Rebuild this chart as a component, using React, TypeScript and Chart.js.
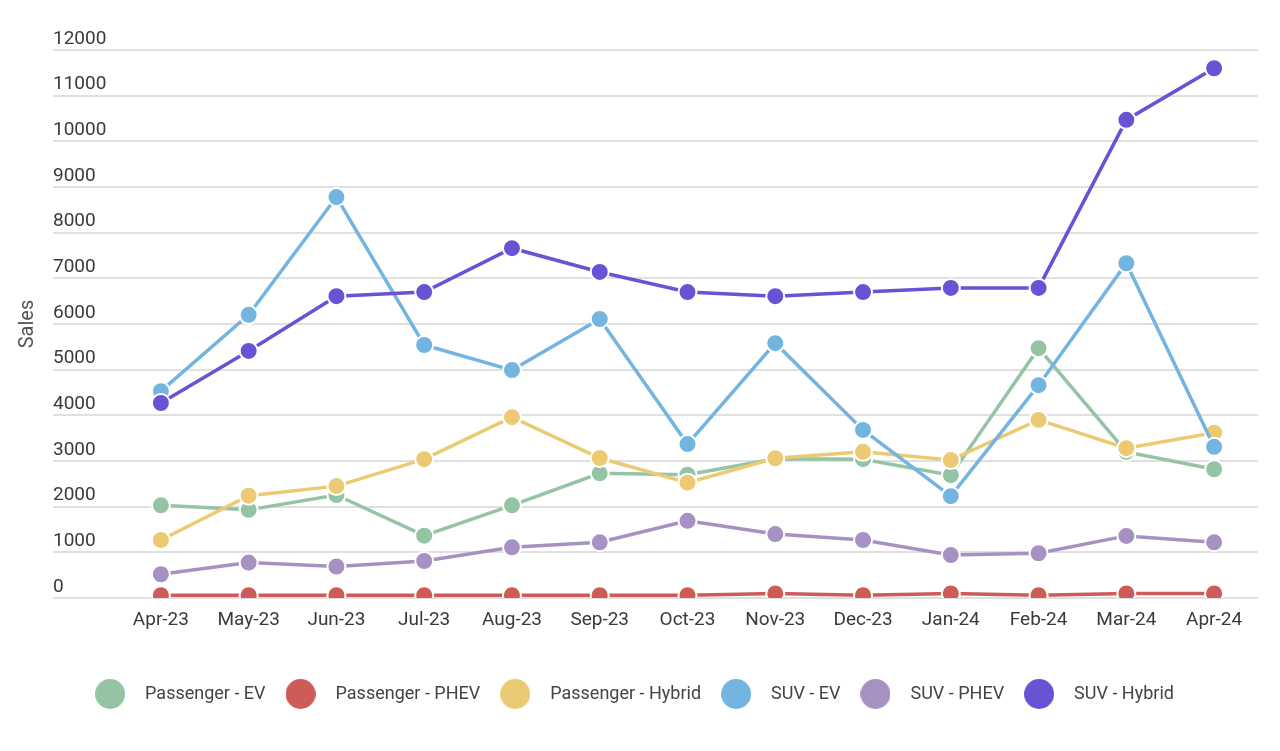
import React, { useEffect, useRef } from "react";
import { Chart, registerables } from "chart.js";

Chart.register(...registerables);

const categories = ["Apr-23", "May-23", "Jun-23", "Jul-23", "Aug-23", "Sep-23", "Oct-23", "Nov-23", "Dec-23", "Jan-24", "Feb-24", "Mar-24", "Apr-24"];

const passengerEV = [2030, 1930, 2255, 1365, 2030, 2730, 2700, 3050, 3040, 2690, 5470, 3200, 2820];
const passengerPHEV = [60, 60, 60, 60, 60, 60, 60, 100, 60, 100, 60, 100, 100];
const passengerHybrid = [1270, 2240, 2450, 3040, 3960, 3065, 2525, 3060, 3200, 3020, 3900, 3280, 3620];
const suvEV = [4530, 6200, 8780, 5540, 4990, 6110, 3370, 5580, 3680, 2230, 4660, 7330, 3310];
const suvPHEV = [520, 775, 690, 810, 1110, 1220, 1690, 1400, 1270, 940, 980, 1360, 1220];
const suvHybrid = [4270, 5410, 6610, 6700, 7660, 7140, 6700, 6610, 6700, 6790, 6790, 10470, 11600];

const seriesNames = ["Passenger - EV", "Passenger - PHEV", "Passenger - Hybrid", "SUV - EV", "SUV - PHEV", "SUV - Hybrid"];
const seriesValues = [passengerEV, passengerPHEV, passengerHybrid, suvEV, suvPHEV, suvHybrid];
const seriesColors = ["#95c4a5", "#cd5b57", "#ebca73", "#74b4e1", "#a791c3", "#6a52d4"];

const yTicksMin = 0;
const yTicksMax = 12000;
const yTicksStep = 1000;

function makeDot(color: string) {
  const c = document.createElement("canvas");
  c.width = 30;
  c.height = 30;
  const ctx = c.getContext("2d")!;
  ctx.fillStyle = color;
  ctx.beginPath();
  ctx.arc(15, 15, 15, 0, Math.PI * 2);
  ctx.fill();
  return c;
}

export default function App() {
  const ref = useRef<HTMLCanvasElement | null>(null);

  useEffect(() => {
    if (!ref.current) return;
    const dots = seriesColors.map(makeDot);
    const n = seriesNames.length;
    const chart = new Chart(ref.current, {
      type: "line",
      data: {
        labels: categories,
        datasets: seriesNames.map((name, i) => ({
          label: name,
          data: seriesValues[i],
          borderColor: seriesColors[i],
          backgroundColor: seriesColors[i],
          pointBackgroundColor: seriesColors[i],
          pointBorderColor: "#ffffff",
          pointBorderWidth: 2,
          pointRadius: 9,
          pointHoverRadius: 9,
          borderWidth: 3.5,
          tension: 0,
          order: n - i,
          yAxisID: "y",
        })),
      },
      options: {
        animation: false,
        responsive: false,
        maintainAspectRatio: false,
        font: { family: "Roboto" },
        layout: { padding: { left: 0, right: 22, top: 50, bottom: 38 } },
        plugins: {
          tooltip: { enabled: false },
          legend: {
            position: "bottom",
            labels: {
              usePointStyle: true,
              pointStyleWidth: 52,
              padding: 9,
              color: "#444444",
              font: { family: "Roboto", size: 18 },
              sort: (a: any, b: any) => a.datasetIndex - b.datasetIndex,
              generateLabels: (ch: any) => {
                const items = (Chart.defaults.plugins.legend.labels as any).generateLabels(ch);
                return items.map((it: any) => ({ ...it, pointStyle: dots[it.datasetIndex] }));
              },
            },
          },
        },
        scales: {
          x: {
            type: "category",
            offset: true,
            grid: { display: false, drawTicks: false, offset: true },
            border: { display: false },
            ticks: {
              color: "#3a3a3a",
              font: { family: "Roboto", size: 19 },
              padding: 11,
              maxRotation: 0,
              autoSkip: false,
            },
            afterFit: (s: any) => {
              s.height = 78;
            },
          },
          y: {
            type: "linear",
            position: "left",
            weight: 0,
            min: yTicksMin,
            max: yTicksMax,
            border: { display: false },
            grid: {
              color: "#e0e0e0",
              lineWidth: 2,
              drawTicks: true,
              tickLength: 64,
              tickColor: "#e0e0e0",
            },
            ticks: {
              stepSize: yTicksStep,
              color: "#3a3a3a",
              font: { family: "Roboto", size: 19 },
              crossAlign: "far",
              padding: 0,
              labelOffset: -11,
              callback: (v: any) => String(v),
            },
            afterFit: (s: any) => {
              s.width = 64;
            },
          },
          yTitle: {
            type: "linear",
            position: "left",
            weight: 1,
            display: true,
            grid: { display: false, drawTicks: false },
            border: { display: false },
            ticks: { display: false },
            title: {
              display: true,
              text: "Sales",
              color: "#555555",
              font: { family: "Roboto", size: 20 },
              padding: { top: 16, bottom: 0 },
            },
            afterFit: (s: any) => {
              s.width = 53;
            },
          },
        },
      } as any,
    });
    return () => chart.destroy();
  }, []);

  return (
    <div style={{ position: "fixed", left: 0, top: 0, width: 1280, height: 751, background: "#ffffff" }}>
      <canvas ref={ref} width={1280} height={751} style={{ display: "block" }} />
    </div>
  );
}
